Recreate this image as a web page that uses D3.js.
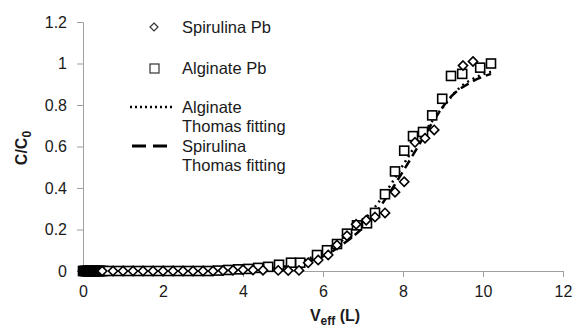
<!DOCTYPE html>
<html>
<head>
<meta charset="utf-8">
<style>
  body { margin: 0; background: #fff; }
  text { font-family: "Liberation Sans", Arial, sans-serif; fill: #1a1a1a; }
</style>
</head>
<body>
<script src="https://cdn.jsdelivr.net/npm/d3@7"></script>
<script>
// --- data ---
var xTicks = [0, 2, 4, 6, 8, 10, 12];
var yTicks = [0, 0.2, 0.4, 0.6, 0.8, 1, 1.2];
var yTickLabels = ["0", "0.2", "0.4", "0.6", "0.8", "1", "1.2"];

var spirX = [0, 0.03, 0.06, 0.09, 0.12, 0.15, 0.18, 0.21, 0.24, 0.27, 0.3, 0.33, 0.36, 0.39, 0.42, 0.45, 0.48,
  0.75, 1.0, 1.25, 1.5, 1.75, 2.0, 2.25, 2.5, 2.75,
  3.0, 3.25, 3.5, 3.75, 4.0, 4.25, 4.5, 4.88, 5.13, 5.4, 5.63, 5.88, 6.13, 6.35, 6.6, 6.83, 7.08, 7.3, 7.55, 7.8, 8.03,
  8.3, 8.55, 8.78, 9.5, 9.75];
var spirY = [0, 0, 0, 0, 0, 0, 0, 0, 0, 0, 0, 0, 0, 0, 0, 0, 0,
  0, 0, 0, 0, 0, 0, 0, 0, 0,
  0, 0, 0.002, 0.004, 0.006, 0.005, 0.004, 0.003, 0.002, 0.003, 0.04, 0.053, 0.077, 0.125, 0.17, 0.225, 0.245, 0.26, 0.28, 0.38, 0.43,
  0.62, 0.64, 0.68, 0.99, 1.01];

var algX = [0, 0.03, 0.06, 0.09, 0.12, 0.15, 0.18, 0.21, 0.24, 0.27, 0.3, 0.33, 0.36, 0.39, 0.42, 0.45, 0.5,
  0.63, 0.88, 1.13, 1.38, 1.63, 1.88, 2.13, 2.38, 2.63,
  2.88, 3.13, 3.38, 3.63, 3.88, 4.13, 4.38, 4.63, 4.9, 5.2, 5.43, 5.85, 6.1, 6.35, 6.6, 6.85, 7.1, 7.3, 7.55, 7.8, 8.03,
  8.25, 8.5, 8.73, 8.98, 9.2, 9.48, 9.93, 10.2];
var algY = [0, 0, 0, 0, 0, 0, 0, 0, 0, 0, 0, 0, 0, 0, 0, 0, 0,
  0, 0, 0, 0, 0, 0, 0, 0, 0,
  0, 0, 0.002, 0.005, 0.008, 0.01, 0.015, 0.02, 0.03, 0.04, 0.04, 0.077, 0.1, 0.13, 0.18, 0.22, 0.23, 0.28, 0.37, 0.48, 0.58,
  0.65, 0.67, 0.75, 0.83, 0.94, 0.95, 0.98, 1.0];

// Thomas fitting curves (traced)
var algFitX = [0, 3, 4, 4.5, 5, 5.5, 6, 6.5, 7, 7.5, 8, 8.5, 9, 9.4, 9.9, 10.2];
var algFitY = [0, 0.002, 0.008, 0.015, 0.03, 0.05, 0.09, 0.15, 0.24, 0.36, 0.51, 0.66, 0.79, 0.88, 0.94, 0.96];
var spirFitX = [0, 3, 4, 4.5, 5, 5.5, 6, 6.5, 7, 7.5, 8, 8.5, 8.75, 9.2, 9.7, 10.2];
var spirFitY = [0, 0.001, 0.005, 0.01, 0.02, 0.04, 0.07, 0.13, 0.21, 0.33, 0.48, 0.64, 0.72, 0.84, 0.91, 0.95];

var width = 575, height = 329;
var margin = { top: 22, right: 12, bottom: 58, left: 83 };

var svg = d3.select("body").append("svg")
  .attr("width", width).attr("height", height);

var x = d3.scaleLinear().domain([0, 12]).range([margin.left, width - margin.right]);
var y = d3.scaleLinear().domain([0, 1.2]).range([height - margin.bottom, margin.top]);

// axes
svg.append("g")
  .attr("transform", `translate(0,${y(0)})`)
  .call(d3.axisBottom(x).tickValues(xTicks).tickSize(6).tickPadding(9))
  .call(g => g.selectAll("path, line").attr("stroke", "#a0a0a0"))
  .call(g => g.selectAll("text").style("font-size", "16px").attr("fill", "#1a1a1a"));

svg.append("g")
  .attr("transform", `translate(${x(0)},0)`)
  .call(d3.axisLeft(y).tickValues(yTicks).tickFormat((d, i) => yTickLabels[i]).tickSize(6).tickPadding(10))
  .call(g => g.selectAll("path, line").attr("stroke", "#a0a0a0"))
  .call(g => g.selectAll("text").style("font-size", "16px").attr("fill", "#1a1a1a"));

// axis titles
var xt = svg.append("text").attr("x", 335).attr("y", 321).attr("text-anchor", "middle")
  .style("font-size", "16px").style("font-weight", "bold");
xt.append("tspan").text("V");
xt.append("tspan").attr("dy", 4).style("font-size", "12px").text("eff");
xt.append("tspan").attr("dy", -4).text(" (L)");

var yt = svg.append("text").attr("transform", "translate(27,148) rotate(-90)").attr("text-anchor", "middle")
  .style("font-size", "16px").style("font-weight", "bold");
yt.append("tspan").text("C/C");
yt.append("tspan").attr("dy", 4).style("font-size", "12px").text("0");

// fitted lines
var line = d3.line().x(d => x(d[0])).y(d => y(d[1])).curve(d3.curveMonotoneX);
svg.append("path")
  .datum(spirFitX.map((v, i) => [v, spirFitY[i]]))
  .attr("d", line).attr("fill", "none").attr("stroke", "#000")
  .attr("stroke-width", 2.5).attr("stroke-dasharray", "9,5");
svg.append("path")
  .datum(algFitX.map((v, i) => [v, algFitY[i]]))
  .attr("d", line).attr("fill", "none").attr("stroke", "#000")
  .attr("stroke-width", 2.5).attr("stroke-dasharray", "2,4");

// markers
var sq = 9, dm = 4.6;
svg.append("g").selectAll("rect")
  .data(algX.map((v, i) => [v, algY[i]]))
  .join("rect")
  .attr("x", d => x(d[0]) - sq / 2).attr("y", d => y(d[1]) - sq / 2)
  .attr("width", sq).attr("height", sq)
  .attr("fill", "#fff").attr("stroke", "#000").attr("stroke-width", 1.6);

svg.append("g").selectAll("path")
  .data(spirX.map((v, i) => [v, spirY[i]]))
  .join("path")
  .attr("transform", d => `translate(${x(d[0])},${y(d[1])})`)
  .attr("d", `M0,${-dm}L${dm},0L0,${dm}L${-dm},0Z`)
  .attr("fill", "#fff").attr("stroke", "#000").attr("stroke-width", 1.6);

// legend
var lg = svg.append("g").style("font-size", "16.5px");
lg.append("path").attr("transform", "translate(154,27)")
  .attr("d", "M0,-4L4,0L0,4L-4,0Z").attr("fill", "#fff").attr("stroke", "#333").attr("stroke-width", 1.2);
lg.append("text").attr("x", 182).attr("y", 33).text("Spirulina Pb");
lg.append("rect").attr("x", 150).attr("y", 64).attr("width", 9).attr("height", 9)
  .attr("fill", "#fff").attr("stroke", "#333").attr("stroke-width", 1.2);
lg.append("text").attr("x", 182).attr("y", 74).text("Alginate Pb");
lg.append("line").attr("x1", 130).attr("x2", 175).attr("y1", 107).attr("y2", 107)
  .attr("stroke", "#000").attr("stroke-width", 2.5).attr("stroke-dasharray", "2,3");
lg.append("text").attr("x", 182).attr("y", 113).text("Alginate");
lg.append("text").attr("x", 182).attr("y", 132).text("Thomas fitting");
lg.append("line").attr("x1", 132).attr("x2", 168).attr("y1", 146).attr("y2", 146)
  .attr("stroke", "#000").attr("stroke-width", 3).attr("stroke-dasharray", "14,7");
lg.append("text").attr("x", 182).attr("y", 152).text("Spirulina");
lg.append("text").attr("x", 182).attr("y", 171).text("Thomas fitting");
</script>
</body>
</html>
